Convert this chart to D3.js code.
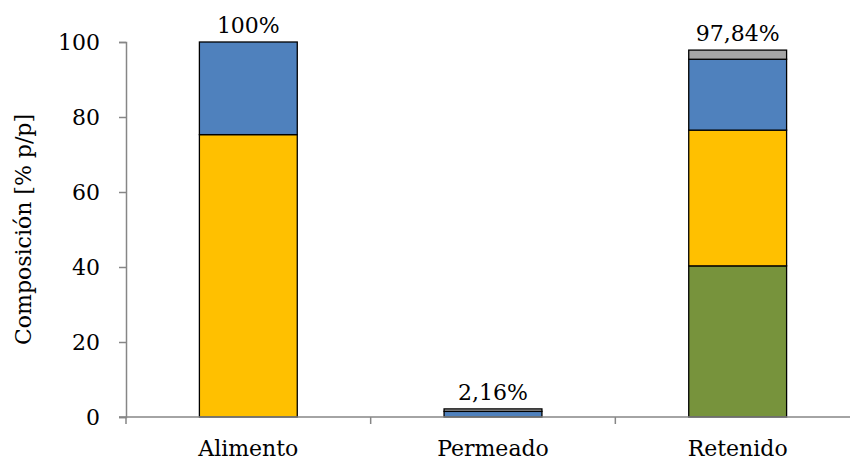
<!DOCTYPE html>
<html>
<head>
<meta charset="utf-8">
<script src="https://cdn.jsdelivr.net/npm/d3@7"></script>
<style>
  html, body { margin: 0; padding: 0; background: #fff; }
  svg text { font-family: "DejaVu Serif", "Liberation Serif", serif; fill: #000; }
</style>
</head>
<body>
<svg id="chart" width="850" height="464"></svg>
<script>
// Composition of each stream, stacked by component (% p/p)
const categories = ["Alimento", "Permeado", "Retenido"];
const seriesNames = ["c1", "c2", "c3", "c4"];
const c1Values = [0, 0, 40.3];       // green
const c2Values = [75.3, 0, 36.2];    // yellow
const c3Values = [24.7, 1.5, 18.9];  // blue
const c4Values = [0, 0.66, 2.44];    // grey
const totalLabels = ["100%", "2,16%", "97,84%"];
const totalValues = [100, 2.16, 97.84];
const yTicks = [0, 20, 40, 60, 80, 100];
const colors = ["#77933C", "#FFC000", "#4F81BD", "#A5A5A5"];

const rows = categories.map((cat, i) => ({
  cat, c1: c1Values[i], c2: c2Values[i], c3: c3Values[i], c4: c4Values[i]
}));

const svg = d3.select("#chart");
const margin = { left: 126, top: 42, bottom: 47 };
const plotW = 734;
const height = 464;
const fontSize = "22px";

const x = d3.scaleBand().domain(categories).range([margin.left, margin.left + plotW])
  .paddingInner(0.6).paddingOuter(0.3);
const y = d3.scaleLinear().domain([0, 100]).range([height - margin.bottom, margin.top]);

const axisColor = "#868686";

// Stacked bars
const stack = d3.stack().keys(seriesNames)(rows);
svg.append("g").selectAll("g").data(stack).join("g")
  .attr("fill", (d, i) => colors[i])
  .selectAll("rect").data(d => d.filter(s => s[1] - s[0] > 0)).join("rect")
  .attr("x", d => x(d.data.cat))
  .attr("width", x.bandwidth())
  .attr("y", d => y(d[1]))
  .attr("height", d => y(d[0]) - y(d[1]))
  .attr("stroke", "#000")
  .attr("stroke-width", 1.3);

// Y axis
const yAxis = svg.append("g").attr("transform", `translate(${margin.left},0)`)
  .call(d3.axisLeft(y).tickValues(yTicks).tickSize(7).tickPadding(19));
yAxis.select(".domain").attr("stroke", axisColor).attr("stroke-width", 1.5);
yAxis.selectAll(".tick line").attr("stroke", axisColor).attr("stroke-width", 1.5);
yAxis.selectAll(".tick text").style("font-size", fontSize).attr("fill", "#000")
  .attr("dy", "0.35em");

// X axis with category boundary ticks
const xAxisG = svg.append("g").attr("transform", `translate(0,${y(0)})`);
xAxisG.append("line")
  .attr("x1", margin.left - 7).attr("x2", margin.left + plotW)
  .attr("stroke", axisColor).attr("stroke-width", 1.5);
const boundaries = d3.range(categories.length + 1).map(i => margin.left + i * x.step());
xAxisG.selectAll("line.tk").data(boundaries).join("line").attr("class", "tk")
  .attr("x1", d => d).attr("x2", d => d).attr("y1", 0).attr("y2", 7)
  .attr("stroke", axisColor).attr("stroke-width", 1.5);
xAxisG.selectAll("text").data(categories).join("text")
  .attr("x", d => x(d) + x.bandwidth() / 2)
  .attr("y", 39)
  .attr("text-anchor", "middle")
  .style("font-size", fontSize)
  .text(d => d);

// Total labels above bars
svg.append("g").selectAll("text").data(categories).join("text")
  .attr("x", d => x(d) + x.bandwidth() / 2)
  .attr("y", (d, i) => y(totalValues[i]) - 9)
  .attr("text-anchor", "middle")
  .style("font-size", fontSize)
  .text((d, i) => totalLabels[i]);

// Y axis title
svg.append("text")
  .attr("transform", `translate(31,${(y(0) + y(100)) / 2}) rotate(-90)`)
  .attr("text-anchor", "middle")
  .style("font-size", fontSize)
  .text("Composición [% p/p]");
</script>
</body>
</html>
